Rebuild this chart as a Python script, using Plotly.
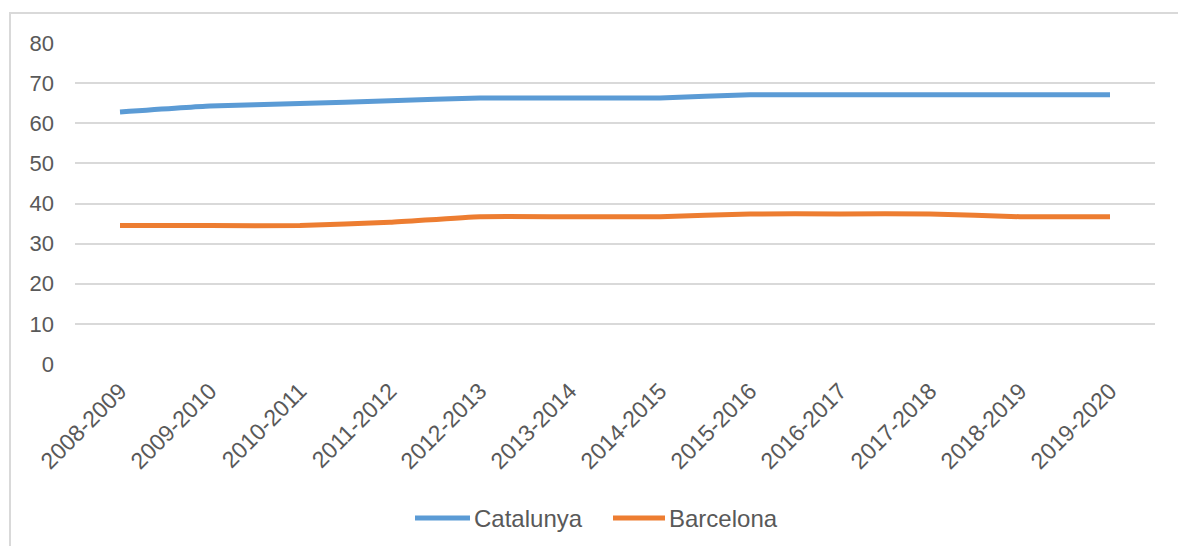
import plotly.graph_objects as go

# School years on the category axis
cursos = ["2008-2009", "2009-2010", "2010-2011", "2011-2012", "2012-2013", "2013-2014",
          "2014-2015", "2015-2016", "2016-2017", "2017-2018", "2018-2019", "2019-2020"]

# Series values
catalunya = [62.8, 64.3, 64.9, 65.6, 66.3, 66.3, 66.3, 67.1, 67.1, 67.1, 67.1, 67.1]
barcelona = [34.5, 34.5, 34.5, 35.3, 36.7, 36.7, 36.7, 37.4, 37.4, 37.4, 36.7, 36.7]

y_ticks = [0, 10, 20, 30, 40, 50, 60, 70, 80]

W, H = 1178, 546
M_L, M_R, M_T, M_B = 75, 23, 43, 182
plot_w = W - M_L - M_R
plot_h = H - M_T - M_B

TEXT = "#595959"
GRID = "#d9d9d9"
FONT = "Liberation Sans"
BLUE = "#5B9BD5"
ORANGE = "#ED7D31"


def px_x(p):
    return (p - M_L) / plot_w


def px_y(p):
    return (M_T + plot_h - p) / plot_h


fig = go.Figure()
fig.add_trace(go.Scatter(
    x=cursos, y=catalunya, name="Catalunya", mode="lines",
    line=dict(color=BLUE, width=5, shape="spline", smoothing=0.45),
))
fig.add_trace(go.Scatter(
    x=cursos, y=barcelona, name="Barcelona", mode="lines",
    line=dict(color=ORANGE, width=5, shape="spline", smoothing=0.45),
))

# Outer chart frame (only its top and left edges fall inside the page)
fig.add_shape(
    type="rect", xref="paper", yref="paper",
    x0=px_x(10), x1=1.2, y0=-1.0, y1=px_y(13),
    line=dict(color=GRID, width=2), fillcolor="rgba(0,0,0,0)", layer="below",
)

# Legend drawn at the bottom centre: line sample followed by series name
legend_items = [("Catalunya", BLUE, 415, 470), ("Barcelona", ORANGE, 613, 665)]
LEG_Y = 518
for label, color, x0, x1 in legend_items:
    fig.add_shape(
        type="line", xref="paper", yref="paper",
        x0=px_x(x0), x1=px_x(x1), y0=px_y(LEG_Y), y1=px_y(LEG_Y),
        line=dict(color=color, width=5),
    )
    fig.add_annotation(
        xref="paper", yref="paper", x=px_x(x1 + 2), y=px_y(LEG_Y),
        xanchor="left", yanchor="middle", text=label, showarrow=False,
        font=dict(family=FONT, size=24, color=TEXT),
    )

fig.update_layout(
    width=W, height=H,
    margin=dict(l=M_L, r=M_R, t=M_T, b=M_B),
    paper_bgcolor="white", plot_bgcolor="white",
    font=dict(family=FONT, color=TEXT, size=21),
    showlegend=False,
    xaxis=dict(
        type="category", range=[-0.5, len(cursos) - 0.5], tickangle=-45,
        showgrid=False, zeroline=False, showline=False, ticks="",
        ticklabelstandoff=8, automargin=False,
        tickfont=dict(size=23, color=TEXT),
    ),
    yaxis=dict(
        range=[0, 80], tickvals=y_ticks, showgrid=True, gridcolor=GRID, gridwidth=2,
        zeroline=False, showline=False, ticks="", ticklabelstandoff=20,
        automargin=False, tickfont=dict(size=22, color=TEXT),
    ),
)

fig.write_html("out.html")
